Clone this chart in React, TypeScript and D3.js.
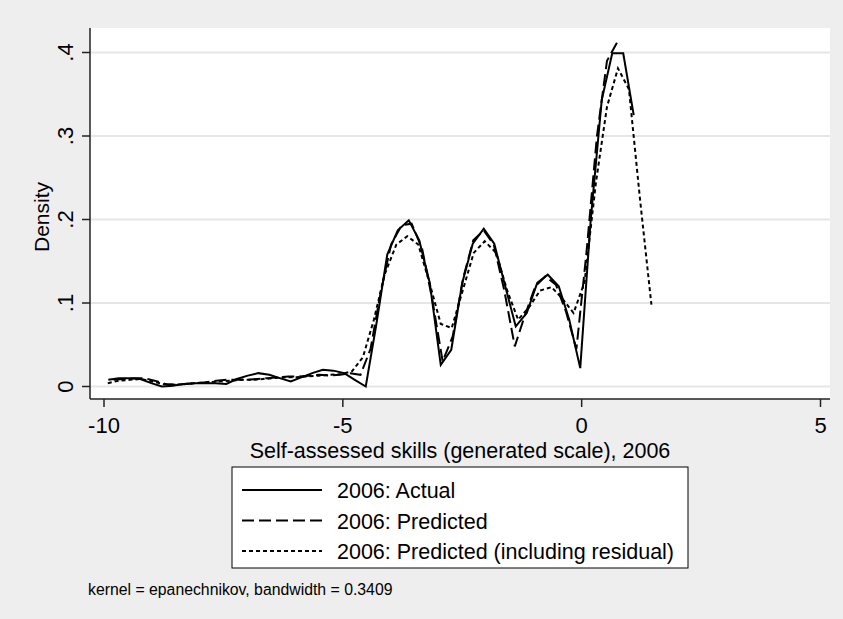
import * as d3 from "d3";

// x grid for each kernel density estimate
const actualX = [
  -9.91, -9.69, -9.46, -9.24, -9.01, -8.79, -8.56, -8.34, -8.11, -7.89,
  -7.67, -7.44, -7.22, -6.99, -6.77, -6.54, -6.32, -6.09, -5.87, -5.64,
  -5.42, -5.2, -4.97, -4.75, -4.52, -4.3, -4.07, -3.85, -3.62, -3.4,
  -3.18, -2.95, -2.73, -2.5, -2.28, -2.05, -1.83, -1.6, -1.38, -1.15,
  -0.93, -0.71, -0.48, -0.26, -0.03, 0.19, 0.42, 0.64, 0.87, 1.09,
];
const actualY = [
  0.008, 0.01, 0.01, 0.009, 0.004, 0.0, 0.001, 0.003, 0.004, 0.004,
  0.004, 0.003, 0.009, 0.013, 0.016, 0.014, 0.01, 0.006, 0.011, 0.016,
  0.02, 0.019, 0.016, 0.008, 0.0, 0.074, 0.158, 0.187, 0.199, 0.175,
  0.124, 0.026, 0.044, 0.124, 0.171, 0.189, 0.171, 0.12, 0.072, 0.088,
  0.124, 0.134, 0.12, 0.08, 0.022, 0.2, 0.343, 0.399, 0.399, 0.325,
];

const predX = [
  -9.8, -9.58, -9.37, -9.15, -8.94, -8.72, -8.51, -8.29, -8.08, -7.86,
  -7.65, -7.43, -7.22, -7.0, -6.79, -6.57, -6.36, -6.14, -5.92, -5.71,
  -5.49, -5.28, -5.06, -4.85, -4.63, -4.42, -4.2, -3.99, -3.77, -3.56,
  -3.34, -3.13, -2.91, -2.7, -2.48, -2.27, -2.05, -1.84, -1.62, -1.4,
  -1.19, -0.97, -0.76, -0.54, -0.33, -0.11, 0.1, 0.32, 0.53, 0.75,
];
const predY = [
  0.008, 0.009, 0.01, 0.01, 0.007, 0.003, 0.002, 0.003, 0.004, 0.005,
  0.007, 0.008, 0.008, 0.008, 0.009, 0.01, 0.011, 0.012, 0.012, 0.013,
  0.014, 0.013, 0.014, 0.016, 0.014, 0.045, 0.115, 0.17, 0.193, 0.195,
  0.165, 0.105, 0.03, 0.06, 0.13, 0.175, 0.187, 0.17, 0.115, 0.048,
  0.085, 0.12, 0.132, 0.122, 0.09, 0.045, 0.16, 0.3, 0.39, 0.413,
];

const residX = [
  -9.92, -9.69, -9.46, -9.22, -8.99, -8.76, -8.53, -8.29, -8.06, -7.83,
  -7.6, -7.37, -7.13, -6.9, -6.67, -6.44, -6.2, -5.97, -5.74, -5.51,
  -5.28, -5.04, -4.81, -4.58, -4.35, -4.12, -3.88, -3.65, -3.42, -3.19,
  -2.95, -2.72, -2.49, -2.26, -2.03, -1.79, -1.56, -1.33, -1.1, -0.87,
  -0.63, -0.4, -0.17, 0.06, 0.3, 0.53, 0.76, 0.99, 1.22, 1.46,
];
const residY = [
  0.004, 0.007, 0.008, 0.009, 0.006, 0.003, 0.002, 0.003, 0.004, 0.005,
  0.006, 0.007, 0.008, 0.008, 0.009, 0.01, 0.011, 0.011, 0.012, 0.013,
  0.014, 0.015, 0.018, 0.035, 0.08, 0.135, 0.17, 0.18, 0.17, 0.125,
  0.075, 0.07, 0.115, 0.16, 0.174, 0.16, 0.115, 0.08, 0.095, 0.115,
  0.119, 0.105, 0.088, 0.125, 0.245, 0.335, 0.381, 0.356, 0.225, 0.098,
];

const xTicks = [-10, -5, 0, 5];
const yTicks = [0, 0.1, 0.2, 0.3, 0.4];
const yTickLabels = ["0", ".1", ".2", ".3", ".4"];

const seriesNames = [
  "2006: Actual",
  "2006: Predicted",
  "2006: Predicted (including residual)",
];
const dashes = ["none", "12,5", "4,3"];

const font = "'Liberation Sans', Arial, sans-serif";

export default function App() {
  const W = 843;
  const H = 619;

  const x = d3.scaleLinear().domain([-10, 5]).range([104, 820.5]);
  const y = d3.scaleLinear().domain([0, 0.4]).range([386.5, 52.5]);

  const line = d3
    .line<[number, number]>()
    .x((d) => x(d[0]))
    .y((d) => y(d[1]));

  const series = [
    d3.zip(actualX, actualY) as [number, number][],
    d3.zip(predX, predY) as [number, number][],
    d3.zip(residX, residY) as [number, number][],
  ];

  const left = 90;
  const bottom = 399;
  const top = 28;
  const right = 830;

  const legendX = 232;
  const legendY = 467;
  const rowH = 30.5;

  return (
    <svg
      width={W}
      height={H}
      style={{ position: "absolute", left: 0, top: 0, display: "block" }}
      fontFamily={font}
    >
      <rect width={W} height={H} fill="#eeeeee" />
      <rect x={left} y={top} width={right - left} height={bottom - top} fill="#ffffff" />

      {/* grid */}
      {yTicks.map((t) => (
        <line
          key={t}
          x1={left}
          x2={right}
          y1={y(t)}
          y2={y(t)}
          stroke="#e6e6e6"
          strokeWidth={1.8}
        />
      ))}

      {/* curves */}
      {series.map((s, i) => (
        <path
          key={i}
          d={line(s) ?? ""}
          fill="none"
          stroke="#000"
          strokeWidth={2}
          strokeDasharray={dashes[i]}
          strokeLinejoin="miter"
        />
      ))}

      {/* axes */}
      <line x1={left} x2={left} y1={top} y2={bottom} stroke="#222" strokeWidth={1.5} />
      <line x1={left} x2={right} y1={bottom} y2={bottom} stroke="#222" strokeWidth={1.5} />

      {yTicks.map((t, i) => (
        <g key={t}>
          <line x1={left - 8} x2={left} y1={y(t)} y2={y(t)} stroke="#222" strokeWidth={1.5} />
          <text
            transform={`translate(${73},${y(t)}) rotate(-90)`}
            textAnchor="middle"
            fontSize={22}
            fill="#000"
          >
            {yTickLabels[i]}
          </text>
        </g>
      ))}

      {xTicks.map((t) => (
        <g key={t}>
          <line x1={x(t)} x2={x(t)} y1={bottom} y2={bottom + 8} stroke="#222" strokeWidth={1.5} />
          <text x={x(t)} y={433} textAnchor="middle" fontSize={22} fill="#000">
            {t}
          </text>
        </g>
      ))}

      <text
        transform={`translate(${49},${217}) rotate(-90)`}
        textAnchor="middle"
        fontSize={21}
        fill="#000"
      >
        Density
      </text>
      <text x={460} y={458} textAnchor="middle" fontSize={21.5} fill="#000">
        Self-assessed skills (generated scale), 2006
      </text>

      {/* legend */}
      <rect
        x={legendX}
        y={legendY}
        width={456}
        height={101}
        fill="#ffffff"
        stroke="#000"
        strokeWidth={1}
      />
      {seriesNames.map((name, i) => {
        const cy = legendY + 23 + i * rowH;
        return (
          <g key={name}>
            <line
              x1={legendX + 10}
              x2={legendX + 90}
              y1={cy}
              y2={cy}
              stroke="#000"
              strokeWidth={2}
              strokeDasharray={dashes[i]}
            />
            <text x={legendX + 105} y={cy + 8} fontSize={21.5} fill="#000">
              {name}
            </text>
          </g>
        );
      })}

      <text x={88} y={595} fontSize={15.8} fill="#000">
        kernel = epanechnikov, bandwidth = 0.3409
      </text>
    </svg>
  );
}
